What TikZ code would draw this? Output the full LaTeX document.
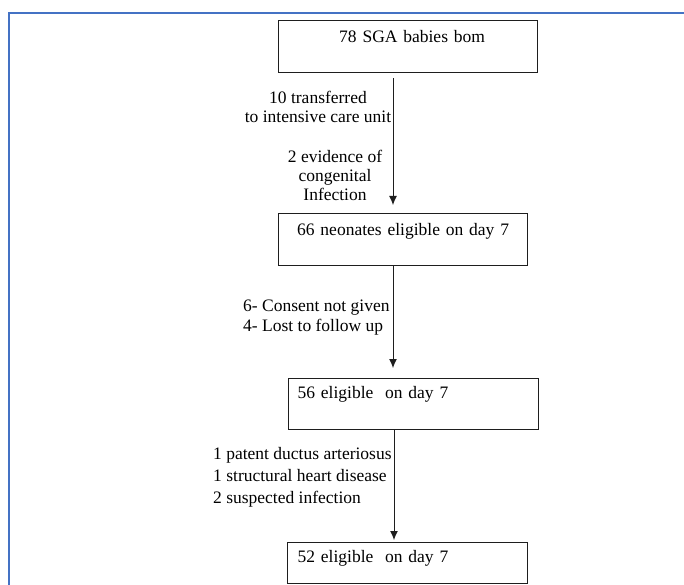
\documentclass[tikz,border=0pt]{standalone}
\usepackage{fontspec}
\setmainfont{Liberation Serif}
\usetikzlibrary{arrows.meta}
\definecolor{framecol}{RGB}{68,114,196}
\definecolor{linecol}{RGB}{30,30,30}
\tikzset{
  boxnode/.style={draw=linecol, line width=1.2pt, anchor=north west, inner ysep=0pt,
    font=\fontsize{17.5}{20}\selectfont},
  lbl/.style={inner sep=0pt, font=\fontsize{17.5}{19}\selectfont},
  arr/.style={draw=linecol, line width=1pt, -{Latex[length=9pt,width=8pt]}}
}
\begin{document}
\begin{tikzpicture}[x=1pt,y=-1pt]
\useasboundingbox[fill=white] (0,0) rectangle (684,585);
\draw[framecol, line width=2pt] (9,586) -- (9,13) -- (685,13);

\node[boxnode, inner xsep=0pt, text width=259pt, align=center, text height=22pt, text depth=30pt] (b1) at (278,20) {\hspace*{8pt}78 SGA babies bom};
\node[boxnode, inner xsep=0pt, text width=249pt, align=center, text height=22pt, text depth=30pt] (b2) at (278,213) {66 neonates eligible on day 7};
\node[boxnode, inner xsep=9pt, text width=232pt, align=left, text height=20pt, text depth=31pt] (b3) at (288,378) {56 eligible\ \ on day 7};
\node[boxnode, inner xsep=10pt, text width=220pt, align=left, text height=20pt, text depth=21pt] (b4) at (287,542) {52 eligible\ \ on day 7};

\coordinate (ax) at (393,0);
\coordinate (ax3) at (394,0);
\draw[arr, shorten <=5pt, shorten >=8pt] (b1.south -| ax) -- (b2.north -| ax);
\draw[arr, shorten >=10pt] (b2.south -| ax) -- (b3.north -| ax);
\draw[arr, shorten >=2pt] (b3.south -| ax3) -- (b4.north -| ax3);

\node[lbl, align=center, anchor=north] (l1) at (318,91) {10 transferred\\to intensive care unit};
\node[lbl, align=center, anchor=north] (l2) at (335,150) {2 evidence of\\congenital\\Infection};
\node[lbl, align=left, anchor=north west, font=\fontsize{17.5}{20}\selectfont] (l3) at (243,300) {6- Consent not given\\4- Lost to follow up};
\node[lbl, align=left, anchor=north west, font=\fontsize{17.5}{22}\selectfont] (l4) at (213,447) {1 patent ductus arteriosus\\1 structural heart disease\\2 suspected infection};
\end{tikzpicture}
\end{document}
